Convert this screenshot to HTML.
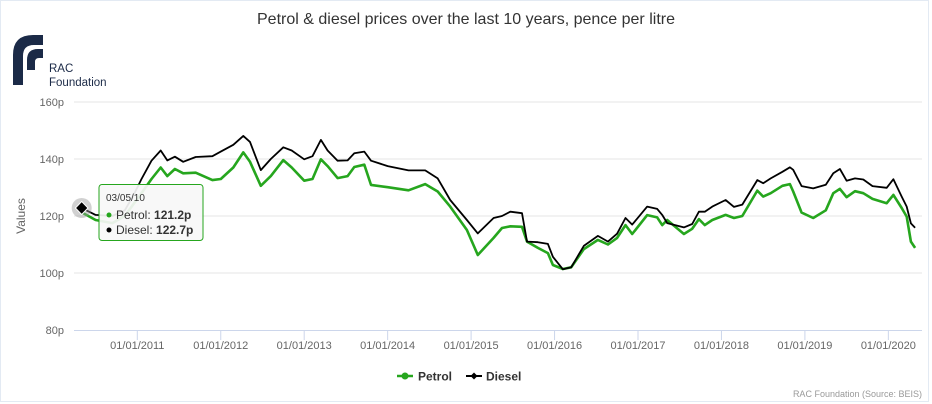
<!DOCTYPE html>
<html><head><meta charset="utf-8"><style>
html,body{margin:0;padding:0;background:#fff;}
svg{display:block;font-family:"Liberation Sans",Arial,sans-serif;}
</style></head><body>
<svg id="chart" width="932" height="404" viewBox="0 0 932 404">
<rect x="0.5" y="0.5" width="928" height="401" fill="#fff" stroke="#e3eaf3"/>
<text x="466" y="24" text-anchor="middle" font-size="16" fill="#333">Petrol &amp; diesel prices over the last 10 years, pence per litre</text>
<g>
<path d="M13 85 L13 55 Q13 35 33 35 L43 35 L43 45 L34 45 Q23 45 23 56 L23 85 Z" fill="#1b2a47"/>
<path d="M27 70 L27 60 Q27 49 38 49 L43 49 L43 58 L39 58 Q35 58 35 62 L35 70 Z" fill="#1b2a47"/>
<text x="49" y="72" font-size="11.5" fill="#1b2a47">RAC</text>
<text x="49" y="86" font-size="11.5" fill="#1b2a47">Foundation</text>
</g>
<g id="grid"></g>
<g id="yticks"></g>
<text transform="translate(25,216) rotate(-90)" text-anchor="middle" font-size="12" fill="#666">Values</text>
<g id="xaxis"></g>
<g id="series"></g>
<g>
<circle cx="81.7" cy="208" r="10" fill="#999" opacity="0.45"/>
<path d="M81.7 201.5 L88 208 L81.7 214.5 L75.4 208 Z" fill="#000" stroke="#fff" stroke-width="1"/>
</g>
<g>
<rect x="99" y="184.5" width="104" height="56" rx="3" fill="#f7f7f7" fill-opacity="0.92" stroke="#26a61e" stroke-width="1"/>
<text x="106" y="201" font-size="10" fill="#333">03/05/10</text>
<circle cx="109" cy="215" r="2.5" fill="#26a61e"/>
<text x="116" y="219" font-size="12" fill="#333">Petrol: <tspan font-weight="bold">121.2p</tspan></text>
<circle cx="109" cy="230" r="2.5" fill="#000"/>
<text x="116" y="234" font-size="12" fill="#333">Diesel: <tspan font-weight="bold">122.7p</tspan></text>
</g>
<g>
<g>
<line x1="397" y1="376" x2="413" y2="376" stroke="#26a61e" stroke-width="2.5"/>
<circle cx="405" cy="376" r="3.5" fill="#26a61e"/>
<text x="418" y="380.5" font-size="12" font-weight="bold" fill="#333">Petrol</text>
</g>
<g>
<line x1="466" y1="376" x2="482" y2="376" stroke="#000" stroke-width="2"/>
<path d="M474 372.5 L477.5 376 L474 379.5 L470.5 376 Z" fill="#000"/>
<text x="486" y="380.5" font-size="12" font-weight="bold" fill="#333">Diesel</text>
</g>
</g>
<text x="922" y="397" text-anchor="end" font-size="9" fill="#999">RAC Foundation (Source: BEIS)</text>
</svg>
<script>
const dates=[2010.34,2010.5,2010.7,2010.85,2010.95,2011.05,2011.17,2011.28,2011.36,2011.45,2011.55,2011.7,2011.9,2012.0,2012.15,2012.27,2012.35,2012.48,2012.6,2012.75,2012.85,2013.0,2013.1,2013.2,2013.28,2013.4,2013.52,2013.6,2013.72,2013.8,2014.0,2014.25,2014.45,2014.6,2014.75,2014.95,2015.08,2015.27,2015.37,2015.47,2015.61,2015.67,2015.8,2015.92,2015.98,2016.1,2016.2,2016.35,2016.52,2016.64,2016.75,2016.85,2016.93,2017.11,2017.23,2017.29,2017.35,2017.55,2017.65,2017.73,2017.8,2017.89,2018.05,2018.15,2018.25,2018.43,2018.5,2018.59,2018.73,2018.82,2018.86,2018.96,2019.1,2019.25,2019.34,2019.42,2019.5,2019.6,2019.7,2019.81,2019.98,2020.06,2020.16,2020.22,2020.27,2020.32];
const petrol=[121.2,118.6,117.5,120,124,128,133,137,134,136.5,135,135.2,132.6,133,137,142.3,139,130.6,134,139.6,137,132.4,133,139.9,137.5,133.3,134,137.2,138,130.9,130.1,129,131.2,128.6,123.3,115.1,106.3,112.3,115.8,116.4,116.2,111,108.8,107,102.8,101.4,102,108.4,111.6,110,112.3,116.8,113.7,120.3,119.5,116.8,118.6,113.7,115.5,118.9,116.8,118.6,120.4,119.3,120,128.9,126.8,128,130.6,131.2,128.6,121.2,119.3,122,128,129.5,126.6,128.7,128,126,124.5,127.4,122.8,119.8,111,108.8];
const diesel=[122.7,120.4,120,122,127,133,139.4,143,139.5,140.8,139,140.7,141,142.6,145,148.1,146,136.1,140,144.1,143,139.9,141,146.7,143,139.4,139.5,142,142.6,139.4,137.5,136,136,133.2,125.6,118.6,113.9,119.3,120,121.5,121,111,110.8,110.2,105.7,101.3,102,109.5,113,111,113.8,119.3,117,123.3,122.5,120.4,117.5,116,117.2,121.5,121.5,123.3,125.6,123.2,124,132.6,131.5,133.2,135.5,137.1,136.2,130.5,129.7,131,135,136.5,132.4,133.2,132.8,130.5,129.9,132.9,126.8,123.3,117.4,115.9];
const yTicks=[80,100,120,140,160];
const xTickYears=[2011,2012,2013,2014,2015,2016,2017,2018,2019,2020];
const NS="http://www.w3.org/2000/svg";
const L=74,R=922,T=102,B=330;
function xs(yr){return 137.3+(yr-2011)*83.45;}
function ys(v){return B-(v-80)/80*(B-T);}
function mk(tag,attrs,parent){const e=document.createElementNS(NS,tag);for(const k in attrs)e.setAttribute(k,attrs[k]);parent.appendChild(e);return e;}
const grid=document.getElementById('grid'),yt=document.getElementById('yticks'),xa=document.getElementById('xaxis'),sg=document.getElementById('series');
yTicks.forEach(v=>{
 if(v>80){const g=mk('line',{x1:L,x2:R,y1:ys(v),y2:ys(v),stroke:'#e6e6e6','stroke-width':1},grid);
 
 }
 const t=mk('text',{x:64,y:ys(v)+4,'text-anchor':'end','font-size':11,fill:'#666'},yt);
 t.textContent=v+'p';
 
 
});
const ax=mk('line',{x1:L,x2:R,y1:B+0.5,y2:B+0.5,stroke:'#ccd6eb','stroke-width':1},xa);


xTickYears.forEach(yr=>{
 const x=xs(yr);
 const tk=mk('line',{x1:x,x2:x,y1:B,y2:B+10,stroke:'#ccd6eb','stroke-width':1},xa);
 
 
 const t=mk('text',{x:x,y:B+19,'text-anchor':'middle','font-size':11,fill:'#666'},xa);
 t.textContent='01/01/'+yr;
 
 
});
function pathFor(vals){return vals.map((v,i)=>(i?'L':'M')+xs(dates[i]).toFixed(1)+' '+ys(v).toFixed(1)).join(' ');}
const dl=mk('path',{d:pathFor(diesel),fill:'none',stroke:'#000','stroke-width':1.8,'stroke-linejoin':'round'},sg);


const pl=mk('path',{d:pathFor(petrol),fill:'none',stroke:'#26a61e','stroke-width':2.6,'stroke-linejoin':'round'},sg);


sg.insertBefore(pl,dl);
</script>
</body></html>
